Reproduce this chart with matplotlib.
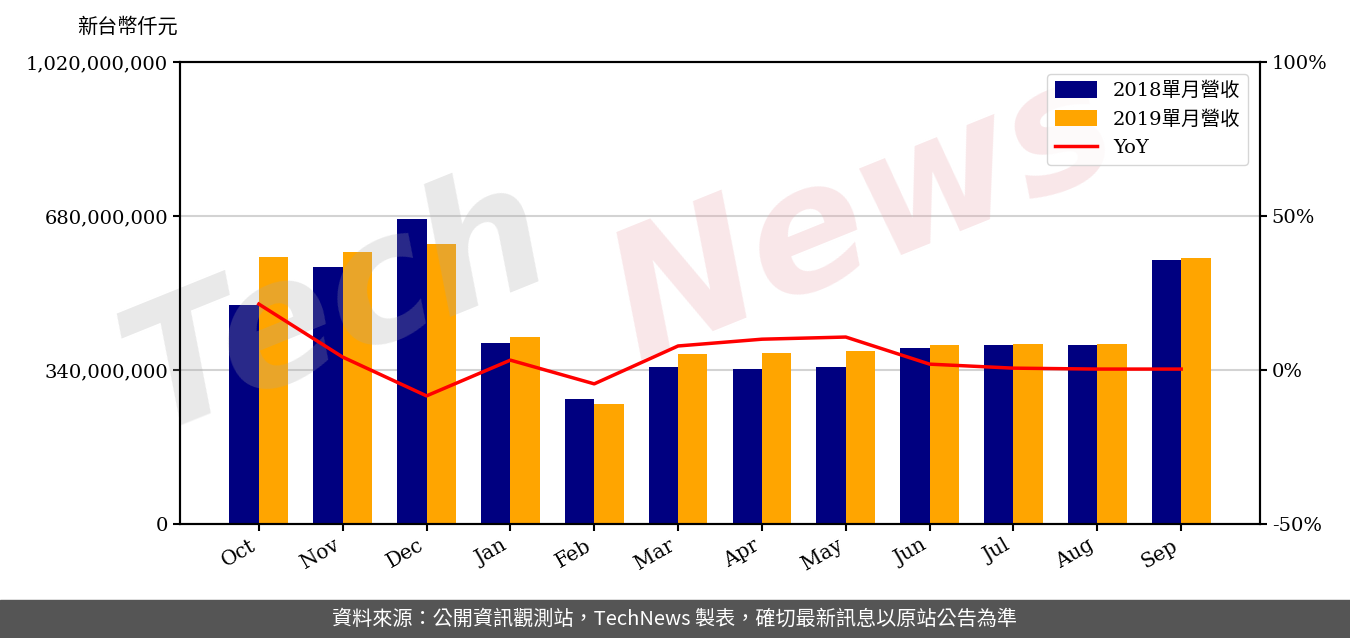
import matplotlib
matplotlib.use('Agg')
import matplotlib.pyplot as plt
import numpy as np

plt.rcParams['font.family'] = ['DejaVu Serif', 'Noto Sans CJK TC']

months = ['Oct', 'Nov', 'Dec', 'Jan', 'Feb', 'Mar', 'Apr', 'May', 'Jun', 'Jul', 'Aug', 'Sep']
rev_2018 = [483.5, 567, 673, 399.6, 276, 346.6, 342, 346.6, 388.6, 395, 395, 583]
rev_2019 = [589.5, 600.5, 618, 413, 265, 375, 377.5, 382, 395, 397.4, 397.4, 587]
yoy = [21.4, 4.2, -8.4, 3.2, -4.5, 7.8, 10.0, 10.7, 1.9, 0.6, 0.3, 0.3]

rev_2018 = np.array(rev_2018) * 1e6
rev_2019 = np.array(rev_2019) * 1e6

fig = plt.figure(figsize=(13.5, 6.38), dpi=100)
ax = fig.add_axes([180 / 1350, 1 - 524 / 638, 1080 / 1350, 462 / 638])
x = np.arange(len(months))
w = 0.35

ax.set_axisbelow(True)
ax.yaxis.grid(True, color='#d3d3d3', linewidth=1.5)
ax.bar(x, rev_2018, width=-w, align='edge', color='#000080', label='2018單月營收')
ax.bar(x, rev_2019, width=w, align='edge', color='#ffa500', label='2019單月營收')
ax.set_xlim(-0.94, 11.94)
ax.set_ylim(0, 1020000000)
ax.set_yticks([0, 340000000, 680000000, 1020000000])
ax.set_yticklabels(['0', '340,000,000', '680,000,000', '1,020,000,000'], fontsize=14)
ax.set_xticks(x)
ax.set_xticklabels(months, rotation=30, ha='right', fontsize=14.5)
for s in ax.spines.values():
    s.set_linewidth(1.5)
ax.tick_params(width=1.5, length=5)

ax2 = ax.twinx()
ax2.plot(x, yoy, color='red', linewidth=2.5, label='YoY', zorder=3)
ax2.set_ylim(-50, 100)
ax2.set_yticks([-50, 0, 50, 100])
ax2.set_yticklabels(['-50%', '0%', '50%', '100%'], fontsize=14)
ax2.tick_params(width=1.5, length=5)
for s in ax2.spines.values():
    s.set_linewidth(1.5)

# watermark, over the bars but under the legend
ax2.text(0.25, 0.52, 'Tech', fontsize=125, fontweight='bold', style='italic', color='#a8a8a8',
         alpha=0.25, rotation=22, ha='center', va='center', family=['DejaVu Sans'],
         transform=fig.transFigure, zorder=2)
ax2.text(0.64, 0.66, 'News', fontsize=125, fontweight='bold', style='italic', color='#e8a0a8',
         alpha=0.25, rotation=22, ha='center', va='center', family=['DejaVu Sans'],
         transform=fig.transFigure, zorder=2)

h1, l1 = ax.get_legend_handles_labels()
h2, l2 = ax2.get_legend_handles_labels()
leg = ax2.legend(h1 + h2, l1 + l2, loc='upper right', fontsize=14, framealpha=0.8,
                 edgecolor='#cccccc', handlelength=2.2, handleheight=0.9,
                 borderaxespad=0.6)
leg.set_zorder(5)

fig.text(127 / 1350, 1 - 27 / 638, '新台幣仟元', fontsize=14.5, ha='center', va='center',
         family=['Noto Sans CJK TC'])

# footer
fig.patches.append(plt.Rectangle((0, 0), 1, 38 / 638, transform=fig.transFigure,
                                 color='#555555', zorder=0))
fig.text(0.5, 19 / 638, '資料來源：公開資訊觀測站，TechNews 製表，確切最新訊息以原站公告為準',
         color='white', fontsize=14.5, ha='center', va='center', family=['Noto Sans CJK TC'])

fig.savefig('out.png', dpi=100)
